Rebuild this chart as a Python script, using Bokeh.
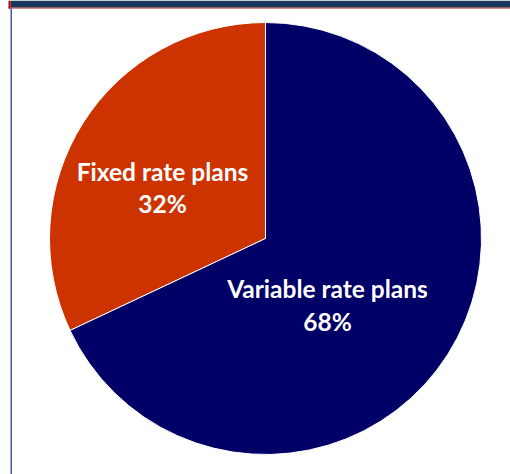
import math
from bokeh.plotting import figure
from bokeh.models import Range1d
from bokeh.core.properties import value
from bokeh.embed import file_html
from bokeh.resources import INLINE

categories = ["Fixed rate plans", "Variable rate plans"]
shares = [32, 68]
colors = ["#CC3300", "#000066"]

W, H = 510, 474
p = figure(width=W, height=H, output_backend="svg", toolbar_location=None,
           x_range=Range1d(0, W), y_range=Range1d(0, H), min_border=0)
p.axis.visible = False
p.grid.visible = False
p.outline_line_color = None
p.background_fill_color = "white"
p.border_fill_color = "white"

# frame decorations
p.quad(left=[10], right=[W], bottom=[H - 7], top=[H], color="#17365D", line_color=None)
p.quad(left=[8], right=[W], bottom=[H - 8], top=[H - 7], color="#9B2C2C", line_color=None)
p.quad(left=[8], right=[10], bottom=[H - 8], top=[H], color="#C00000", line_color=None)
p.quad(left=[10], right=[11.5], bottom=[0], top=[H - 8], color="#3A5A9A", line_color=None)

cx, cy, r = 265, H - 238, 216
total = sum(shares)
start = math.pi / 2
starts, ends = [], []
for s in shares:
    a = 2 * math.pi * s / total
    starts.append(start)
    ends.append(start + a)
    start += a

p.wedge(x=[cx] * 2, y=[cy] * 2, radius=r, start_angle=starts, end_angle=ends,
        fill_color=colors, line_color="white", line_width=1)

label_x = [162, 327]
name_y = [H - 171, H - 288]
pct_y = [H - 203, H - 321]
p.text(x=label_x, y=name_y, text=categories, text_align="center", text_baseline="middle",
       text_color="white", text_font=value("Lato"), text_font_style="bold",
       text_font_size="24.5px")
p.text(x=label_x, y=pct_y, text=[f"{s}%" for s in shares], text_align="center",
       text_baseline="middle", text_color="white", text_font=value("Lato"),
       text_font_style="bold", text_font_size="24.5px")

open("out.html", "w").write(file_html(p, INLINE))
